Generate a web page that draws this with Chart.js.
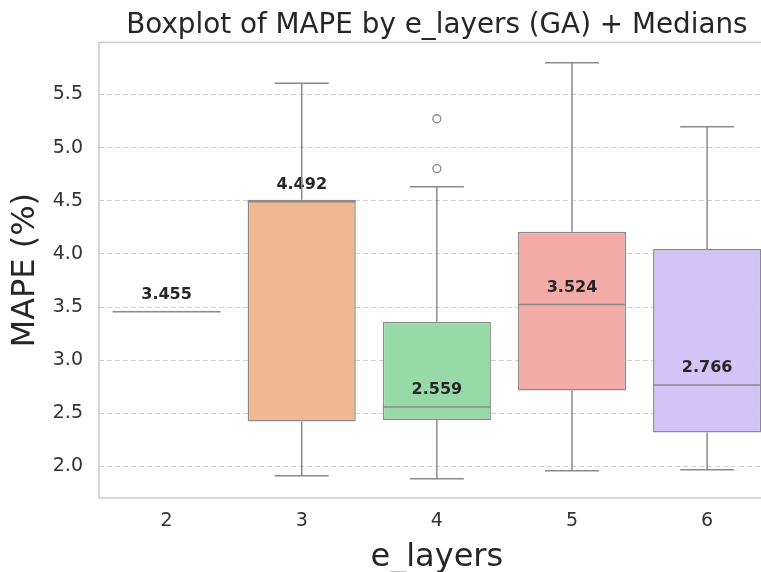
<!DOCTYPE html>
<html lang="en">
<head>
    <meta charset="UTF-8">
    <title>Boxplot of MAPE by e_layers</title>
    <script src="https://cdn.jsdelivr.net/npm/chart.js"></script>
    <style>
        body { margin: 0; overflow: hidden; background: #fff; }
    </style>
</head>
<body>
    <canvas id="boxChart" width="780" height="572"></canvas>
    <script>
        // values
        const categories = ['2', '3', '4', '5', '6'];
        const q1 = [3.455, 2.423, 2.438, 2.714, 2.319];
        const q3 = [3.455, 4.510, 3.361, 4.209, 4.046];
        const medians = [3.455, 4.492, 2.559, 3.524, 2.766];
        const whiskerLow = [3.455, 1.913, 1.884, 1.960, 1.969];
        const whiskerHigh = [3.455, 5.606, 4.631, 5.798, 5.197];
        const outlierCats = ['4', '4'];
        const outlierValues = [5.272, 4.803];
        const yTickValues = [2.0, 2.5, 3.0, 3.5, 4.0, 4.5, 5.0, 5.5];

        const boxColors = ['#abc9ea', '#efb792', '#98daa7', '#f3aba8', '#d3c4f7'];
        const lineGray = '#8a8a8a';

        // whiskers, caps, medians, median labels and the frame
        const boxExtras = {
            id: 'boxExtras',
            beforeDatasetsDraw(chart) {
                const { ctx, chartArea } = chart;
                ctx.save();
                ctx.strokeStyle = '#cccccc';
                ctx.lineWidth = 1.5;
                ctx.strokeRect(chartArea.left, chartArea.top,
                    chartArea.right - chartArea.left, chartArea.bottom - chartArea.top);
                ctx.restore();
            },
            afterDatasetsDraw(chart) {
                const { ctx } = chart;
                const x = chart.scales.x, y = chart.scales.y;
                const bars = chart.getDatasetMeta(0).data;
                ctx.save();

                // median labels first, lines go over them
                ctx.font = 'bold 16px "DejaVu Sans"';
                ctx.fillStyle = '#262626';
                ctx.textAlign = 'center';
                ctx.textBaseline = 'alphabetic';
                medians.forEach((m, i) => {
                    ctx.fillText(m.toFixed(3), x.getPixelForValue(i), y.getPixelForValue(m) - 13);
                });

                ctx.strokeStyle = lineGray;
                ctx.lineWidth = 1.5;
                categories.forEach((c, i) => {
                    const cx = x.getPixelForValue(i);
                    const half = bars[i].width / 2;
                    ctx.beginPath();
                    ctx.moveTo(cx, y.getPixelForValue(q3[i]));
                    ctx.lineTo(cx, y.getPixelForValue(whiskerHigh[i]));
                    ctx.moveTo(cx, y.getPixelForValue(q1[i]));
                    ctx.lineTo(cx, y.getPixelForValue(whiskerLow[i]));
                    // caps
                    ctx.moveTo(cx - half / 2, y.getPixelForValue(whiskerHigh[i]));
                    ctx.lineTo(cx + half / 2, y.getPixelForValue(whiskerHigh[i]));
                    ctx.moveTo(cx - half / 2, y.getPixelForValue(whiskerLow[i]));
                    ctx.lineTo(cx + half / 2, y.getPixelForValue(whiskerLow[i]));
                    // median
                    ctx.moveTo(cx - half, y.getPixelForValue(medians[i]));
                    ctx.lineTo(cx + half, y.getPixelForValue(medians[i]));
                    ctx.stroke();
                });
                ctx.restore();
            }
        };

        new Chart(document.getElementById('boxChart'), {
            type: 'bar',
            data: {
                labels: categories,
                datasets: [{
                    label: 'IQR',
                    data: q1.map((v, i) => [v, q3[i]]),
                    backgroundColor: boxColors,
                    borderColor: lineGray,
                    borderWidth: 1.5,
                    borderSkipped: false,
                    barPercentage: 0.8,
                    categoryPercentage: 1.0
                }, {
                    type: 'line',
                    label: 'Outliers',
                    data: outlierCats.map((c, i) => ({ x: c, y: outlierValues[i] })),
                    showLine: false,
                    pointRadius: 4,
                    pointBorderWidth: 1.3,
                    pointBorderColor: lineGray,
                    pointBackgroundColor: 'rgba(0,0,0,0)'
                }]
            },
            options: {
                responsive: false,
                animation: false,
                layout: { padding: 0 },
                plugins: {
                    legend: { display: false },
                    tooltip: { enabled: false },
                    title: {
                        display: true,
                        text: 'Boxplot of MAPE by e_layers (GA) + Medians',
                        fullSize: false,
                        color: '#262626',
                        font: { family: 'DejaVu Sans', size: 27.8, weight: 'normal', lineHeight: 1.2 },
                        padding: { top: 9, bottom: 0 }
                    }
                },
                scales: {
                    x: {
                        afterFit: (scale) => { scale.height = 74; },
                        grid: { display: false, drawTicks: false },
                        border: { display: false },
                        ticks: {
                            color: '#333',
                            font: { family: 'DejaVu Sans', size: 19 },
                            padding: 12
                        },
                        title: {
                            display: true,
                            text: 'e_layers',
                            color: '#262626',
                            font: { family: 'DejaVu Sans', size: 32, lineHeight: 1.0 },
                            padding: { top: 0, bottom: -2 }
                        }
                    },
                    y: {
                        min: 1.703,
                        max: 5.991,
                        afterFit: (scale) => { scale.width = 99; },
                        afterBuildTicks: (scale) => {
                            scale.ticks = yTickValues.map(v => ({ value: v }));
                        },
                        grid: {
                            color: '#d0d0d0',
                            lineWidth: 1,
                            drawTicks: false
                        },
                        border: { display: false, dash: [5, 3] },
                        ticks: {
                            color: '#333',
                            font: { family: 'DejaVu Sans', size: 19 },
                            padding: 16,
                            callback: (v) => Number(v).toFixed(1)
                        },
                        title: {
                            display: true,
                            text: 'MAPE (%)',
                            color: '#262626',
                            font: { family: 'DejaVu Sans', size: 32, lineHeight: 1.2 },
                            padding: { top: 6, bottom: 0 }
                        }
                    }
                }
            },
            plugins: [boxExtras]
        });
    </script>
</body>
</html>
